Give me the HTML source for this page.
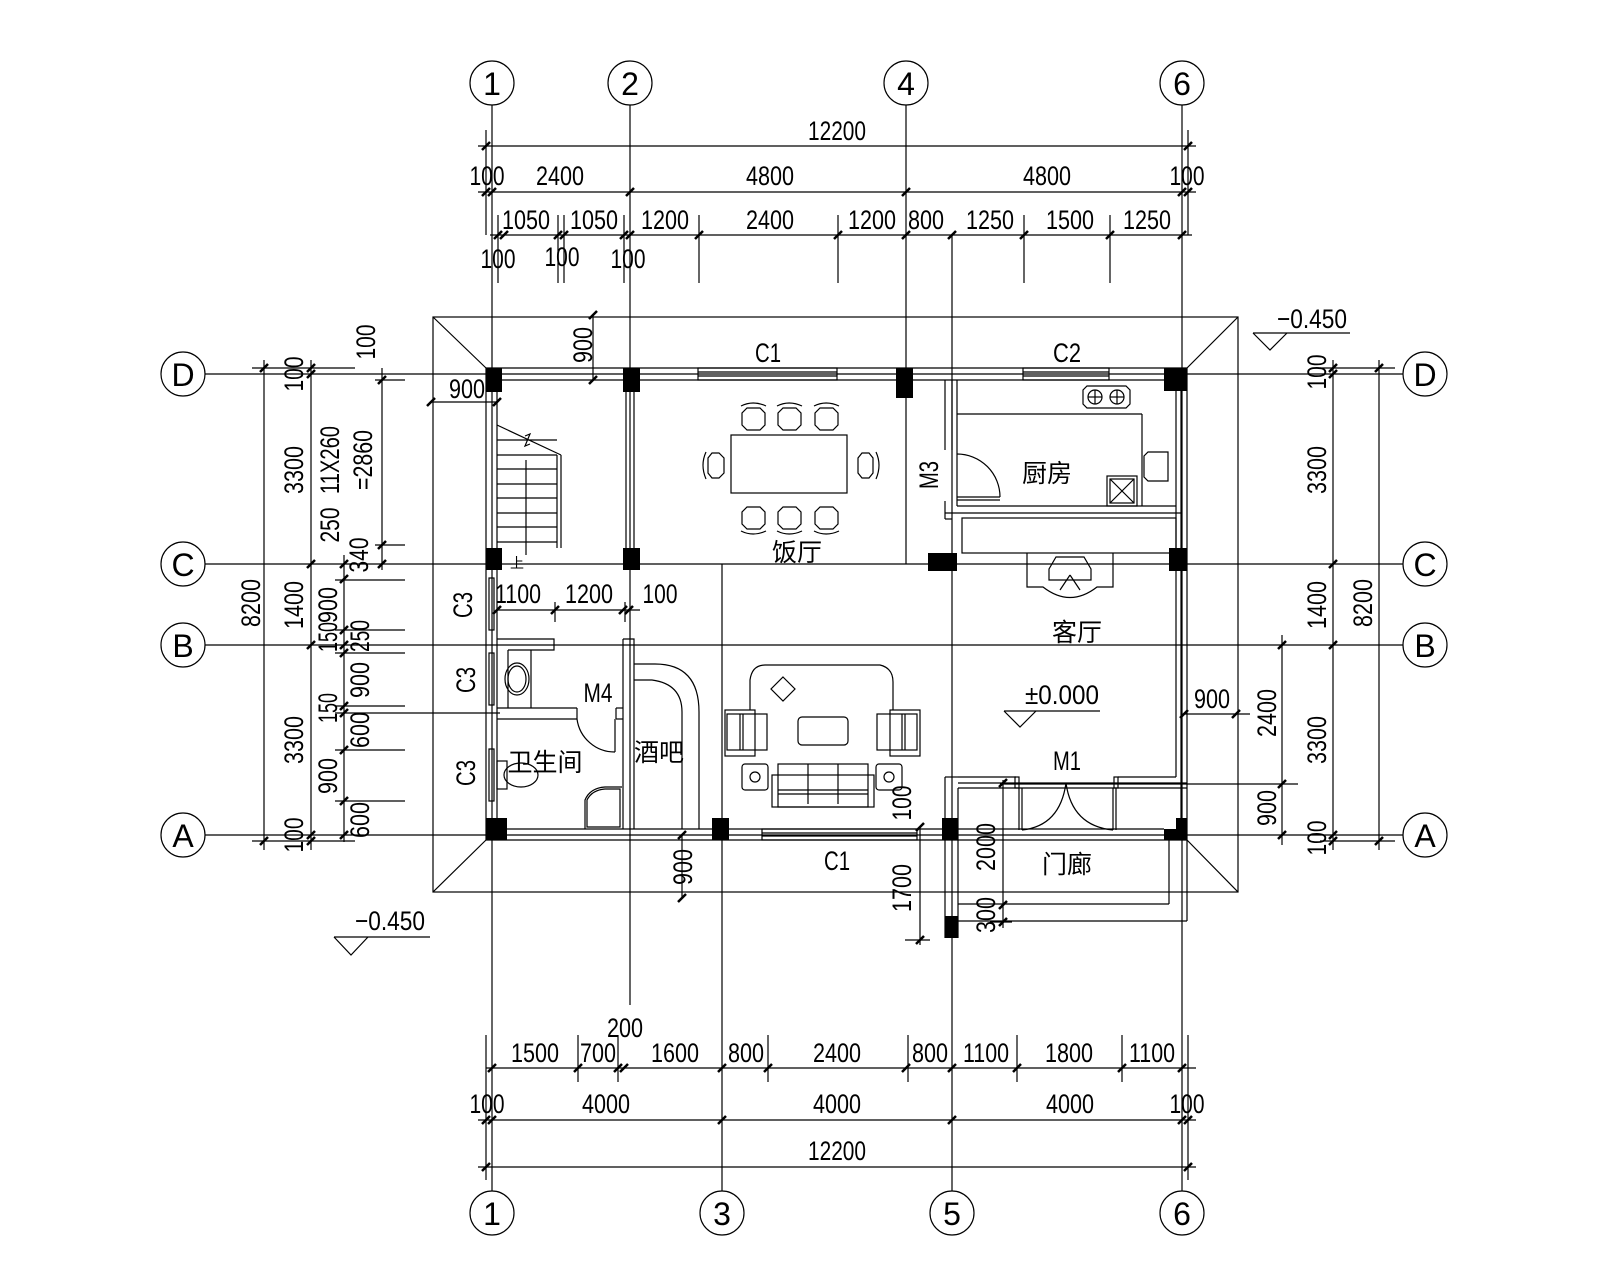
<!DOCTYPE html>
<html><head><meta charset="utf-8"><style>
html,body{margin:0;padding:0;background:#fff}
svg{display:block}
text{font-family:"Liberation Sans","Noto Sans CJK SC",sans-serif;fill:#000}
.n{font-size:27px}
.c{font-size:25px}
</style></head><body>
<svg width="1600" height="1280" viewBox="0 0 1600 1280" xmlns="http://www.w3.org/2000/svg">
<rect width="1600" height="1280" fill="#fff"/>
<g stroke="#000" stroke-width="1.2" fill="none">
<circle cx="492" cy="83" r="22"/><circle cx="630" cy="83" r="22"/><circle cx="906" cy="83" r="22"/><circle cx="1182" cy="83" r="22"/>
<circle cx="492" cy="1213" r="22"/><circle cx="722" cy="1213" r="22"/><circle cx="952" cy="1213" r="22"/><circle cx="1182" cy="1213" r="22"/>
<circle cx="183" cy="374" r="22"/><circle cx="183" cy="564" r="22"/><circle cx="183" cy="645" r="22"/><circle cx="183" cy="835" r="22"/>
<circle cx="1425" cy="374" r="22"/><circle cx="1425" cy="564" r="22"/><circle cx="1425" cy="645" r="22"/><circle cx="1425" cy="835" r="22"/>
<line x1="492" y1="105" x2="492" y2="1191"/>
<line x1="630" y1="105" x2="630" y2="1005"/>
<line x1="722" y1="564" x2="722" y2="1191"/>
<line x1="906" y1="105" x2="906" y2="564"/>
<line x1="952" y1="235" x2="952" y2="1191"/>
<line x1="1182" y1="105" x2="1182" y2="1191"/>
<line x1="205" y1="374" x2="1403" y2="374"/>
<line x1="205" y1="564" x2="1403" y2="564"/>
<line x1="205" y1="645" x2="1403" y2="645"/>
<line x1="205" y1="835" x2="1403" y2="835"/>
<line x1="478" y1="146" x2="1196" y2="146"/>
<line x1="478" y1="192" x2="1196" y2="192"/>
<line x1="490" y1="235" x2="1192" y2="235"/>
<line x1="486" y1="130" x2="486" y2="235"/><line x1="1188" y1="130" x2="1188" y2="235"/>
<line x1="498" y1="215" x2="498" y2="283"/><line x1="558" y1="215" x2="558" y2="283"/><line x1="564" y1="215" x2="564" y2="283"/>
<line x1="624" y1="215" x2="624" y2="283"/><line x1="699" y1="215" x2="699" y2="283"/><line x1="838" y1="215" x2="838" y2="283"/>
<line x1="1024" y1="215" x2="1024" y2="283"/><line x1="1110" y1="215" x2="1110" y2="283"/>
<line x1="486" y1="1068" x2="1196" y2="1068"/>
<line x1="478" y1="1120" x2="1196" y2="1120"/>
<line x1="478" y1="1167" x2="1196" y2="1167"/>
<line x1="486" y1="1035" x2="486" y2="1180"/><line x1="1188" y1="1035" x2="1188" y2="1180"/>
<line x1="578" y1="1035" x2="578" y2="1082"/><line x1="618" y1="1035" x2="618" y2="1082"/>
<line x1="768" y1="1035" x2="768" y2="1082"/><line x1="908" y1="1035" x2="908" y2="1082"/>
<line x1="1017" y1="1035" x2="1017" y2="1082"/><line x1="1122" y1="1035" x2="1122" y2="1082"/>
<line x1="264" y1="360" x2="264" y2="850"/>
<line x1="311" y1="360" x2="311" y2="850"/>
<line x1="344" y1="555" x2="344" y2="842"/>
<line x1="382" y1="368" x2="382" y2="570"/>
<line x1="252" y1="368" x2="355" y2="368"/><line x1="252" y1="841" x2="355" y2="841"/>
<line x1="375" y1="380" x2="405" y2="380"/><line x1="375" y1="545" x2="405" y2="545"/>
<line x1="335" y1="580" x2="405" y2="580"/><line x1="335" y1="630" x2="405" y2="630"/>
<line x1="335" y1="653" x2="405" y2="653"/><line x1="335" y1="706" x2="405" y2="706"/>
<line x1="335" y1="713" x2="500" y2="713"/><line x1="335" y1="750" x2="405" y2="750"/>
<line x1="335" y1="801" x2="405" y2="801"/>
<line x1="1333" y1="360" x2="1333" y2="850"/>
<line x1="1379" y1="360" x2="1379" y2="850"/>
<line x1="1282" y1="635" x2="1282" y2="845"/>
<line x1="1320" y1="368" x2="1395" y2="368"/><line x1="1320" y1="841" x2="1395" y2="841"/>
<line x1="1000" y1="784" x2="1298" y2="784"/>
<line x1="1184" y1="714" x2="1250" y2="714"/>
<line x1="497" y1="610" x2="640" y2="610"/>
<line x1="555" y1="602" x2="555" y2="622"/><line x1="625" y1="602" x2="625" y2="622"/>
<line x1="682" y1="835" x2="682" y2="898"/>
<line x1="431" y1="402" x2="497" y2="402"/>
<line x1="593" y1="315" x2="593" y2="380"/>
<line x1="920" y1="827" x2="920" y2="945"/><line x1="905" y1="940" x2="930" y2="940"/>
<line x1="1003" y1="780" x2="1003" y2="928"/>
<line x1="990" y1="922" x2="1012" y2="922"/>
<rect x="433" y="317" width="805" height="575"/>
<line x1="433" y1="317" x2="486" y2="368"/><line x1="1238" y1="317" x2="1187" y2="368"/>
<line x1="433" y1="892" x2="486" y2="840"/><line x1="1238" y1="892" x2="1187" y2="840"/>
<line x1="486" y1="368" x2="1187" y2="368"/><line x1="497" y1="380" x2="1176" y2="380"/>
<line x1="486" y1="368" x2="486" y2="840"/><line x1="497" y1="380" x2="497" y2="829"/>
<line x1="486" y1="840" x2="1187" y2="840"/><line x1="497" y1="829" x2="1164" y2="829"/>
<line x1="1187" y1="368" x2="1187" y2="921"/><line x1="1176" y1="380" x2="1176" y2="777"/><line x1="1181" y1="380" x2="1181" y2="840"/>
<rect x="698" y="368" width="139" height="12"/><line x1="698" y1="372" x2="837" y2="372"/><line x1="698" y1="376" x2="837" y2="376"/>
<rect x="1023" y="368" width="86" height="12"/><line x1="1023" y1="372" x2="1109" y2="372"/><line x1="1023" y1="376" x2="1109" y2="376"/>
<rect x="762" y="829" width="155" height="11"/><line x1="762" y1="833" x2="917" y2="833"/><line x1="762" y1="836" x2="917" y2="836"/>
<rect x="489" y="578" width="5" height="52"/><rect x="489" y="653" width="5" height="52"/><rect x="489" y="749" width="5" height="52"/>
<line x1="626" y1="392" x2="626" y2="548"/><line x1="634" y1="392" x2="634" y2="548"/>
<line x1="497" y1="425" x2="561" y2="455"/><line x1="561" y1="455" x2="561" y2="548"/><line x1="557" y1="455" x2="557" y2="548"/>
<line x1="497" y1="440" x2="557" y2="440"/><line x1="497" y1="455" x2="557" y2="455"/><line x1="497" y1="469" x2="557" y2="469"/>
<line x1="497" y1="484" x2="557" y2="484"/><line x1="497" y1="498" x2="557" y2="498"/><line x1="497" y1="513" x2="557" y2="513"/>
<line x1="497" y1="527" x2="557" y2="527"/><line x1="497" y1="542" x2="557" y2="542"/>
<line x1="526" y1="460" x2="526" y2="555"/><path d="M525 436 L530 434 L525 446 L530 444"/>
<rect x="731" y="435" width="116" height="58"/>
<g id="ch"><path d="M747 408 L760 408 L765 413 L765 425 L760 430 L747 430 L742 425 L742 413 Z"/><path d="M741 406 Q753 400 766 406"/></g>
<use href="#ch" x="36"/><use href="#ch" x="73"/>
<use href="#ch" transform="translate(0,937) scale(1,-1)"/><use href="#ch" transform="translate(36,937) scale(1,-1)"/><use href="#ch" transform="translate(73,937) scale(1,-1)"/>
<path d="M712 453 L719 453 L724 458 L724 473 L719 478 L712 478 L708 473 L708 458 Z"/><path d="M706 452 Q700 465 706 479"/>
<path d="M862 453 L869 453 L873 458 L873 473 L869 478 L862 478 L858 473 L858 458 Z"/><path d="M876 452 Q882 465 876 479"/>
<line x1="945" y1="380" x2="945" y2="450"/><line x1="952" y1="380" x2="952" y2="450"/>
<line x1="945" y1="501" x2="945" y2="519"/><line x1="945" y1="519" x2="952" y2="519"/>
<line x1="957" y1="380" x2="957" y2="506"/>
<line x1="957" y1="506" x2="1176" y2="506"/><line x1="945" y1="513" x2="1181" y2="513"/>
<rect x="962" y="518" width="214" height="35"/>
<line x1="957" y1="414" x2="1142" y2="414"/><line x1="1142" y1="414" x2="1142" y2="506"/>
<path d="M1087 386 L1126 386 L1130 390 L1130 404 L1126 408 L1087 408 L1083 404 L1083 390 Z"/>
<circle cx="1095" cy="397" r="7"/><circle cx="1117" cy="397" r="7"/>
<line x1="1088" y1="397" x2="1102" y2="397"/><line x1="1095" y1="390" x2="1095" y2="404"/>
<line x1="1110" y1="397" x2="1124" y2="397"/><line x1="1117" y1="390" x2="1117" y2="404"/>
<rect x="1107" y="476" width="30" height="30"/><rect x="1110" y="479" width="24" height="24"/>
<line x1="1110" y1="479" x2="1134" y2="503"/><line x1="1134" y1="479" x2="1110" y2="503"/>
<path d="M1148 452 L1168 452 L1168 481 L1148 481 L1144 477 L1144 456 Z"/>
<path d="M957 454 A 43 43 0 0 1 1000 497"/><line x1="957" y1="497" x2="1000" y2="497"/><line x1="957" y1="500" x2="1000" y2="500"/>
<path d="M1027 553 L1027 587 L1043 587 Q1070 608 1097 587 L1113 587 L1113 553"/>
<path d="M1056 557 L1084 557 L1091 569 L1091 580 L1049 580 L1049 569 Z"/><line x1="1060" y1="590" x2="1070" y2="575"/><line x1="1070" y1="575" x2="1080" y2="590"/>
<path d="M497 639 L554 639 L554 650 L508 650"/><line x1="508" y1="650" x2="508" y2="708"/><line x1="497" y1="708" x2="577" y2="708"/>
<line x1="497" y1="719" x2="577" y2="719"/><line x1="577" y1="708" x2="577" y2="719"/>
<line x1="616" y1="708" x2="616" y2="719"/><line x1="616" y1="708" x2="623" y2="708"/><line x1="616" y1="719" x2="623" y2="719"/>
<line x1="531" y1="650" x2="531" y2="708"/>
<ellipse cx="517" cy="679" rx="12" ry="16"/><ellipse cx="517" cy="679" rx="9" ry="13"/>
<path d="M623 639 L634 639 L634 829"/><line x1="623" y1="639" x2="623" y2="829"/>
<path d="M577 719 A 38 38 0 0 0 615 752"/><line x1="615" y1="719" x2="615" y2="752"/>
<rect x="497" y="761" width="10" height="28"/><ellipse cx="521" cy="775" rx="17" ry="12"/>
<path d="M585 829 L585 800 Q590 788 605 787 L622 787"/><path d="M587 827 L587 800 Q592 790 605 789 L620 789 L620 827 Z"/>
<path d="M634 664 L655 664 Q699 664 699 712 L699 829"/>
<path d="M634 680 L652 680 Q682 684 682 712 L682 829"/>
<line x1="958" y1="777" x2="1016" y2="777"/><line x1="1118" y1="777" x2="1176" y2="777"/>
<path d="M750 710 L750 680 Q752 665 765 665 L880 665 Q893 668 893 682 L893 710"/>
<path d="M783 677 L795 689 L783 701 L771 689 Z"/>
<rect x="798" y="717" width="50" height="28" rx="4"/>
<rect x="727" y="714" width="40" height="36"/><line x1="740" y1="714" x2="740" y2="750"/><line x1="743" y1="714" x2="743" y2="750"/><rect x="725" y="710" width="30" height="46"/>
<rect x="877" y="714" width="40" height="36"/><line x1="902" y1="714" x2="902" y2="750"/><line x1="905" y1="714" x2="905" y2="750"/><rect x="890" y="710" width="30" height="46"/>
<rect x="742" y="764" width="26" height="26" rx="3"/><circle cx="755" cy="777" r="5"/>
<rect x="876" y="764" width="26" height="26" rx="3"/><circle cx="889" cy="777" r="5"/>
<rect x="778" y="764" width="90" height="43"/><rect x="772" y="775" width="102" height="32"/>
<line x1="808" y1="764" x2="808" y2="804"/><line x1="838" y1="764" x2="838" y2="804"/><line x1="778" y1="790" x2="868" y2="790"/><line x1="778" y1="794" x2="868" y2="794"/>
<line x1="945" y1="777" x2="945" y2="938"/><line x1="958" y1="788" x2="958" y2="938"/>
<line x1="945" y1="777" x2="958" y2="777"/>
<line x1="958" y1="783" x2="1187" y2="783"/><line x1="958" y1="788" x2="1187" y2="788"/>
<rect x="1015" y="777" width="4" height="11"/><rect x="1114" y="777" width="4" height="11"/>
<line x1="1019" y1="788" x2="1019" y2="830"/><line x1="1022" y1="788" x2="1022" y2="830"/>
<line x1="1113" y1="788" x2="1113" y2="830"/><line x1="1116" y1="788" x2="1116" y2="830"/>
<path d="M1022 830 Q1060 826 1066 783 Q1072 826 1113 830"/>
<line x1="958" y1="904" x2="1169" y2="904"/><line x1="1169" y1="840" x2="1169" y2="904"/>
<line x1="958" y1="921" x2="1187" y2="921"/>
<line x1="1253" y1="333" x2="1350" y2="333"/><path d="M1253 333 L1270 350 L1287 333"/>
<line x1="334" y1="937" x2="430" y2="937"/><path d="M334 937 L351 955 L368 937"/>
<line x1="1004" y1="711" x2="1100" y2="711"/><path d="M1004 711 L1020 727 L1036 711"/>
</g>
<g fill="#000">
<rect x="486" y="368" width="16" height="24"/><rect x="623" y="368" width="17" height="24"/>
<rect x="896" y="368" width="17" height="30"/><rect x="1164" y="368" width="23" height="23"/>
<rect x="486" y="548" width="16" height="22"/><rect x="623" y="548" width="17" height="22"/>
<rect x="928" y="553" width="29" height="18"/><rect x="1169" y="548" width="18" height="23"/>
<rect x="486" y="818" width="21" height="22"/><rect x="712" y="818" width="17" height="22"/>
<rect x="942" y="818" width="16" height="22"/><rect x="1176" y="818" width="11" height="22"/><rect x="1164" y="829" width="23" height="11"/>
<rect x="945" y="916" width="13" height="22"/>
</g>
<path stroke="#000" stroke-width="2.5" fill="none" d="
M482 150l8-8M1184 150l8-8
M482 196l8-8M488 196l8-8M626 196l8-8M902 196l8-8M1178 196l8-8M1184 196l8-8
M494 239l8-8M500 239l8-8M554 239l8-8M560 239l8-8M620 239l8-8M626 239l8-8M695 239l8-8M834 239l8-8M902 239l8-8M948 239l8-8M1020 239l8-8M1106 239l8-8M1178 239l8-8
M488 1072l8-8M574 1072l8-8M614 1072l8-8M620 1072l8-8M718 1072l8-8M764 1072l8-8M902 1072l8-8M948 1072l8-8M1013 1072l8-8M1118 1072l8-8M1178 1072l8-8
M482 1124l8-8M488 1124l8-8M718 1124l8-8M948 1124l8-8M1178 1124l8-8M1184 1124l8-8
M482 1171l8-8M1184 1171l8-8
M260 372l8-8M260 845l8-8M307 372l8-8M307 378l8-8M307 568l8-8M307 649l8-8M307 839l8-8M307 845l8-8
M378 384l8-8M378 549l8-8M378 568l8-8
M340 568l8-8M340 583l8-8M340 634l8-8M340 649l8-8M340 657l8-8M340 710l8-8M340 717l8-8M340 754l8-8M340 805l8-8M340 839l8-8
M1329 372l8-8M1329 378l8-8M1329 568l8-8M1329 649l8-8M1329 839l8-8M1329 845l8-8M1375 372l8-8M1375 845l8-8
M1278 649l8-8M1278 788l8-8M1278 839l8-8M1180 718l8-8M1232 718l8-8
M493 614l8-8M551 614l8-8M619 614l8-8M625 614l8-8
M678 839l8-8M678 902l8-8M427 406l8-8M493 406l8-8M589 319l8-8M589 384l8-8
M916 831l8-8M916 944l8-8M999 787l8-8M999 909l8-8M999 926l8-8"/>
<g style="font-family:'Liberation Serif',serif;font-size:32px" text-anchor="middle">
<text x="492" y="95">1</text><text x="630" y="95">2</text><text x="906" y="95">4</text><text x="1182" y="95">6</text>
<text x="492" y="1225">1</text><text x="722" y="1225">3</text><text x="952" y="1225">5</text><text x="1182" y="1225">6</text>
<text x="183" y="386">D</text><text x="183" y="576">C</text><text x="183" y="657">B</text><text x="183" y="847">A</text>
<text x="1425" y="386">D</text><text x="1425" y="576">C</text><text x="1425" y="657">B</text><text x="1425" y="847">A</text>
</g>
<g class="n" text-anchor="middle">
<text x="837" y="140" textLength="58" lengthAdjust="spacingAndGlyphs">12200</text>
<text x="487" y="185" textLength="35" lengthAdjust="spacingAndGlyphs">100</text>
<text x="560" y="185" textLength="48" lengthAdjust="spacingAndGlyphs">2400</text>
<text x="770" y="185" textLength="48" lengthAdjust="spacingAndGlyphs">4800</text>
<text x="1047" y="185" textLength="48" lengthAdjust="spacingAndGlyphs">4800</text>
<text x="1187" y="185" textLength="35" lengthAdjust="spacingAndGlyphs">100</text>
<text x="526" y="229" textLength="48" lengthAdjust="spacingAndGlyphs">1050</text>
<text x="594" y="229" textLength="48" lengthAdjust="spacingAndGlyphs">1050</text>
<text x="665" y="229" textLength="48" lengthAdjust="spacingAndGlyphs">1200</text>
<text x="770" y="229" textLength="48" lengthAdjust="spacingAndGlyphs">2400</text>
<text x="872" y="229" textLength="48" lengthAdjust="spacingAndGlyphs">1200</text>
<text x="926" y="229" textLength="36" lengthAdjust="spacingAndGlyphs">800</text>
<text x="990" y="229" textLength="48" lengthAdjust="spacingAndGlyphs">1250</text>
<text x="1070" y="229" textLength="48" lengthAdjust="spacingAndGlyphs">1500</text>
<text x="1147" y="229" textLength="48" lengthAdjust="spacingAndGlyphs">1250</text>
<text x="498" y="268" textLength="35" lengthAdjust="spacingAndGlyphs">100</text>
<text x="562" y="266" textLength="35" lengthAdjust="spacingAndGlyphs">100</text>
<text x="628" y="268" textLength="35" lengthAdjust="spacingAndGlyphs">100</text>
<text x="625" y="1037" textLength="36" lengthAdjust="spacingAndGlyphs">200</text>
<text x="535" y="1062" textLength="48" lengthAdjust="spacingAndGlyphs">1500</text>
<text x="598" y="1062" textLength="36" lengthAdjust="spacingAndGlyphs">700</text>
<text x="675" y="1062" textLength="48" lengthAdjust="spacingAndGlyphs">1600</text>
<text x="746" y="1062" textLength="36" lengthAdjust="spacingAndGlyphs">800</text>
<text x="837" y="1062" textLength="48" lengthAdjust="spacingAndGlyphs">2400</text>
<text x="930" y="1062" textLength="36" lengthAdjust="spacingAndGlyphs">800</text>
<text x="986" y="1062" textLength="46" lengthAdjust="spacingAndGlyphs">1100</text>
<text x="1069" y="1062" textLength="48" lengthAdjust="spacingAndGlyphs">1800</text>
<text x="1152" y="1062" textLength="46" lengthAdjust="spacingAndGlyphs">1100</text>
<text x="487" y="1113" textLength="35" lengthAdjust="spacingAndGlyphs">100</text>
<text x="606" y="1113" textLength="48" lengthAdjust="spacingAndGlyphs">4000</text>
<text x="837" y="1113" textLength="48" lengthAdjust="spacingAndGlyphs">4000</text>
<text x="1070" y="1113" textLength="48" lengthAdjust="spacingAndGlyphs">4000</text>
<text x="1187" y="1113" textLength="35" lengthAdjust="spacingAndGlyphs">100</text>
<text x="837" y="1160" textLength="58" lengthAdjust="spacingAndGlyphs">12200</text>
<text x="518" y="603" textLength="46" lengthAdjust="spacingAndGlyphs">1100</text>
<text x="589" y="603" textLength="48" lengthAdjust="spacingAndGlyphs">1200</text>
<text x="660" y="603" textLength="35" lengthAdjust="spacingAndGlyphs">100</text>
<text x="467" y="398" textLength="36" lengthAdjust="spacingAndGlyphs">900</text>
<text x="1212" y="708" textLength="36" lengthAdjust="spacingAndGlyphs">900</text>
<text x="1062" y="704" textLength="74" lengthAdjust="spacingAndGlyphs">±0.000</text>
<text x="1312" y="328" textLength="70" lengthAdjust="spacingAndGlyphs">−0.450</text>
<text x="390" y="930" textLength="70" lengthAdjust="spacingAndGlyphs">−0.450</text>
</g>
<g class="n" text-anchor="middle">
<text transform="translate(251,603) rotate(-90)" y="9" textLength="48" lengthAdjust="spacingAndGlyphs">8200</text>
<text transform="translate(294,374) rotate(-90)" y="9" textLength="35" lengthAdjust="spacingAndGlyphs">100</text>
<text transform="translate(294,470) rotate(-90)" y="9" textLength="48" lengthAdjust="spacingAndGlyphs">3300</text>
<text transform="translate(294,605) rotate(-90)" y="9" textLength="48" lengthAdjust="spacingAndGlyphs">1400</text>
<text transform="translate(294,740) rotate(-90)" y="9" textLength="48" lengthAdjust="spacingAndGlyphs">3300</text>
<text transform="translate(294,835) rotate(-90)" y="9" textLength="35" lengthAdjust="spacingAndGlyphs">100</text>
<text transform="translate(330,460) rotate(-90)" y="9" textLength="68" lengthAdjust="spacingAndGlyphs">11X260</text>
<text transform="translate(330,525) rotate(-90)" y="9" textLength="35" lengthAdjust="spacingAndGlyphs">250</text>
<text transform="translate(363,460) rotate(-90)" y="9" textLength="60" lengthAdjust="spacingAndGlyphs">=2860</text>
<text transform="translate(366,342) rotate(-90)" y="9" textLength="35" lengthAdjust="spacingAndGlyphs">100</text>
<text transform="translate(359,555) rotate(-90)" y="9" textLength="35" lengthAdjust="spacingAndGlyphs">340</text>
<text transform="translate(328,605) rotate(-90)" y="9" textLength="36" lengthAdjust="spacingAndGlyphs">900</text>
<text transform="translate(328,637) rotate(-90)" y="9" textLength="30" lengthAdjust="spacingAndGlyphs">150</text>
<text transform="translate(360,636) rotate(-90)" y="9" textLength="32" lengthAdjust="spacingAndGlyphs">250</text>
<text transform="translate(360,680) rotate(-90)" y="9" textLength="36" lengthAdjust="spacingAndGlyphs">900</text>
<text transform="translate(328,708) rotate(-90)" y="9" textLength="30" lengthAdjust="spacingAndGlyphs">150</text>
<text transform="translate(360,730) rotate(-90)" y="9" textLength="36" lengthAdjust="spacingAndGlyphs">600</text>
<text transform="translate(328,776) rotate(-90)" y="9" textLength="36" lengthAdjust="spacingAndGlyphs">900</text>
<text transform="translate(360,820) rotate(-90)" y="9" textLength="36" lengthAdjust="spacingAndGlyphs">600</text>
<text transform="translate(1317,372) rotate(-90)" y="9" textLength="35" lengthAdjust="spacingAndGlyphs">100</text>
<text transform="translate(1317,470) rotate(-90)" y="9" textLength="48" lengthAdjust="spacingAndGlyphs">3300</text>
<text transform="translate(1317,605) rotate(-90)" y="9" textLength="48" lengthAdjust="spacingAndGlyphs">1400</text>
<text transform="translate(1317,740) rotate(-90)" y="9" textLength="48" lengthAdjust="spacingAndGlyphs">3300</text>
<text transform="translate(1317,838) rotate(-90)" y="9" textLength="35" lengthAdjust="spacingAndGlyphs">100</text>
<text transform="translate(1363,603) rotate(-90)" y="9" textLength="48" lengthAdjust="spacingAndGlyphs">8200</text>
<text transform="translate(1267,713) rotate(-90)" y="9" textLength="48" lengthAdjust="spacingAndGlyphs">2400</text>
<text transform="translate(1267,808) rotate(-90)" y="9" textLength="36" lengthAdjust="spacingAndGlyphs">900</text>
<text transform="translate(583,345) rotate(-90)" y="9" textLength="36" lengthAdjust="spacingAndGlyphs">900</text>
<text transform="translate(683,867) rotate(-90)" y="9" textLength="36" lengthAdjust="spacingAndGlyphs">900</text>
<text transform="translate(902,803) rotate(-90)" y="9" textLength="35" lengthAdjust="spacingAndGlyphs">100</text>
<text transform="translate(902,888) rotate(-90)" y="9" textLength="48" lengthAdjust="spacingAndGlyphs">1700</text>
<text transform="translate(986,847) rotate(-90)" y="9" textLength="48" lengthAdjust="spacingAndGlyphs">2000</text>
<text transform="translate(986,915) rotate(-90)" y="9" textLength="36" lengthAdjust="spacingAndGlyphs">300</text>
<text transform="translate(929,475) rotate(-90)" y="9" textLength="28" lengthAdjust="spacingAndGlyphs">M3</text>
<text transform="translate(463,605) rotate(-90)" y="9" textLength="26" lengthAdjust="spacingAndGlyphs">C3</text>
<text transform="translate(466,680) rotate(-90)" y="9" textLength="26" lengthAdjust="spacingAndGlyphs">C3</text>
<text transform="translate(466,773) rotate(-90)" y="9" textLength="26" lengthAdjust="spacingAndGlyphs">C3</text>
</g>
<g class="n" text-anchor="middle">
<text x="768" y="362" textLength="26" lengthAdjust="spacingAndGlyphs">C1</text>
<text x="1067" y="362" textLength="28" lengthAdjust="spacingAndGlyphs">C2</text>
<text x="837" y="870" textLength="26" lengthAdjust="spacingAndGlyphs">C1</text>
<text x="1067" y="770" textLength="28" lengthAdjust="spacingAndGlyphs">M1</text>
<text x="598" y="702" textLength="29" lengthAdjust="spacingAndGlyphs">M4</text>
</g>
<g class="c" text-anchor="middle">
<text x="797" y="561">饭厅</text>
<text x="1047" y="482">厨房</text>
<text x="1077" y="641">客厅</text>
<text x="1067" y="873">门廊</text>
<text x="659" y="761">酒吧</text>
<text x="545" y="771">卫生间</text>
<text x="517" y="568" style="font-size:14px">上</text>
</g>
</svg>
</body></html>
